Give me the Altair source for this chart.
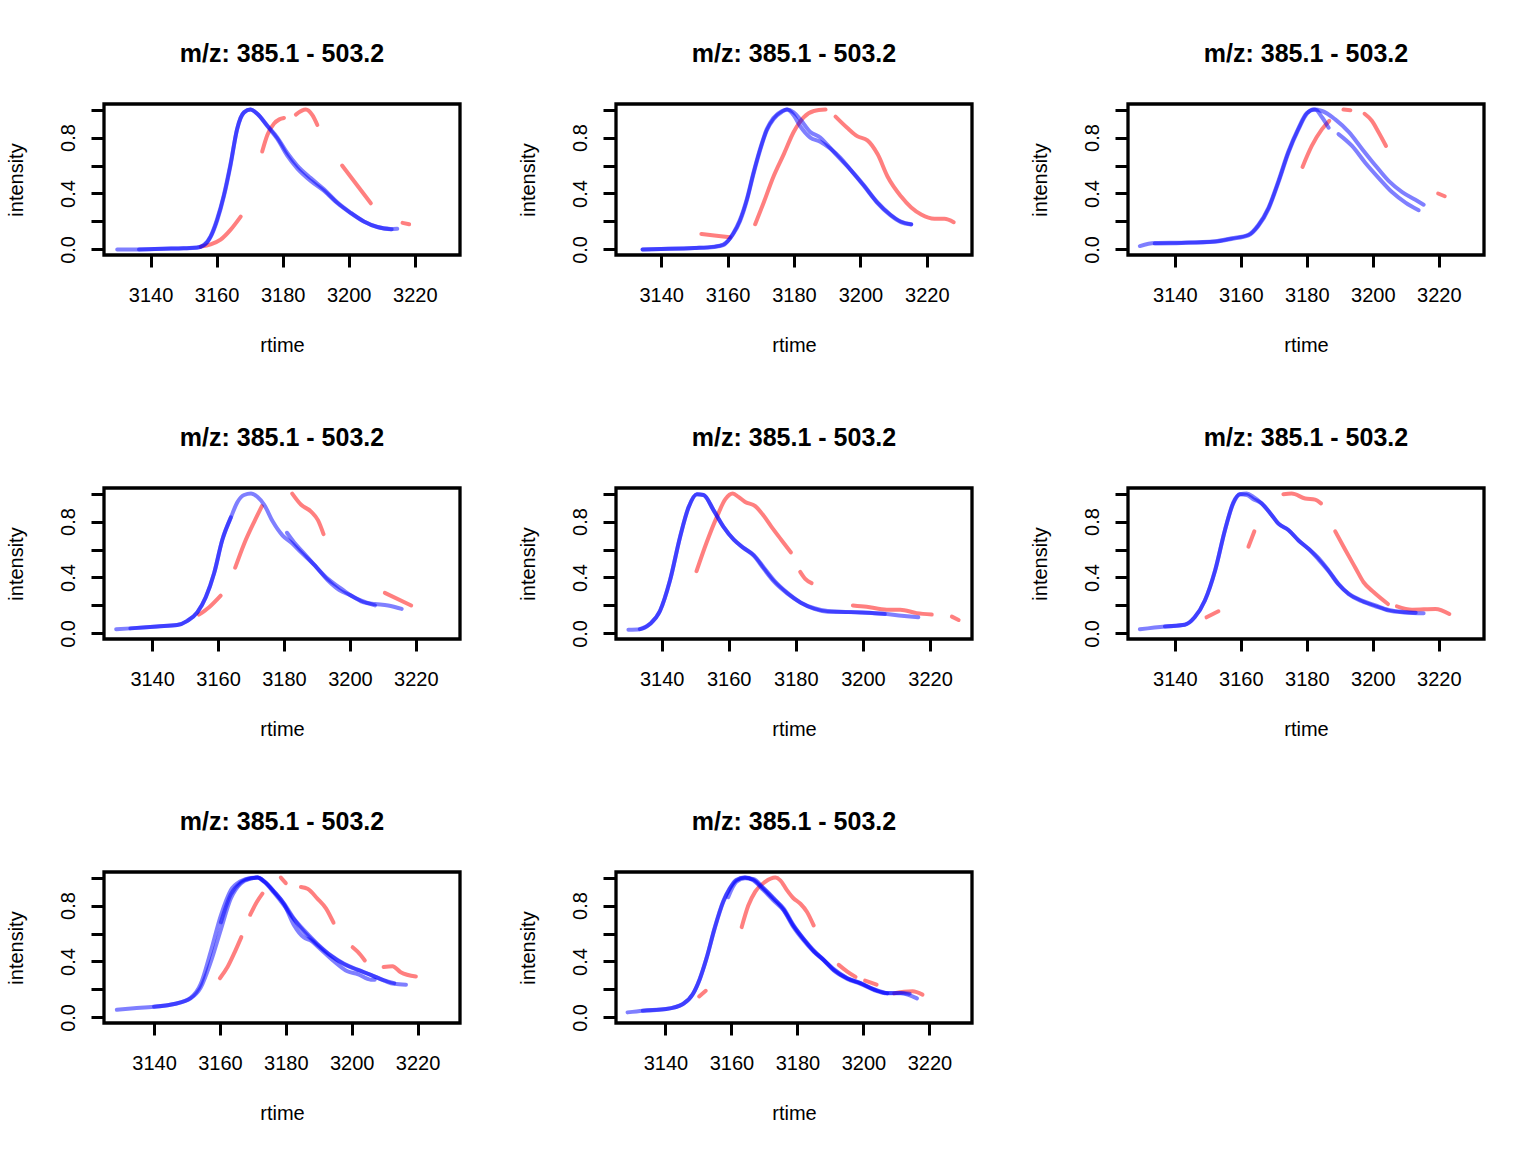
import altair as alt
import pandas as pd

TITLE = "m/z: 385.1 - 503.2"
X_TICKS = [3140, 3160, 3180, 3200, 3220]
Y_TICKS = [0.0, 0.2, 0.4, 0.6, 0.8, 1.0]
Y_DOMAIN = [-0.04, 1.04]

# ---------------- Panel 1 ----------------
P1_XDOM = [3125.9, 3233.7]
P1_B1_RT = [3129.9, 3136, 3144, 3150, 3154, 3156.2, 3158.2, 3160.2, 3162.2, 3164.2, 3166.2, 3168.3, 3170.3, 3172.3, 3175.4, 3178.4, 3181.4, 3184.4, 3188.5, 3192.5, 3196.6, 3200.6, 3204.6, 3208.7, 3212.7, 3214.7]
P1_B1_I = [0.0, 0.0, 0.005, 0.008, 0.012, 0.03, 0.09, 0.21, 0.38, 0.6, 0.86, 0.98, 1.0, 0.97, 0.88, 0.79, 0.67, 0.58, 0.49, 0.42, 0.33, 0.26, 0.20, 0.16, 0.145, 0.147]
P1_B2_RT = [3136.5, 3144, 3150, 3154, 3156.2, 3158.2, 3160.2, 3162.2, 3164.2, 3166.2, 3168.3, 3170.3, 3172.3, 3175.4, 3178.4, 3181.4, 3184.4, 3188.5, 3192.5, 3196.6, 3200.6, 3204.6, 3208.7, 3213.0]
P1_B2_I = [0.0, 0.005, 0.008, 0.013, 0.032, 0.095, 0.22, 0.39, 0.61, 0.86, 0.98, 1.0, 0.97, 0.885, 0.80, 0.69, 0.60, 0.51, 0.43, 0.335, 0.262, 0.2, 0.16, 0.145]
P1_R_RT = [[3155.2, 3158.2, 3161.2, 3164.2, 3167.3], [3173.8, 3175.4, 3177.4, 3179.0, 3180.4], [3184.0, 3187.0, 3189.0, 3190.5], [3198.0, 3206.7], [3216.3, 3218.3]]
P1_R_I = [[0.02, 0.036, 0.07, 0.14, 0.235], [0.70, 0.82, 0.90, 0.93, 0.94], [0.964, 1.0, 0.96, 0.89], [0.60, 0.33], [0.19, 0.18]]

# ---------------- Panel 2 ----------------
P2_XDOM = [3126.4, 3233.6]
P2_B1_RT = [3134.4, 3140, 3150, 3156, 3158.7, 3161.7, 3163.7, 3165.8, 3167.8, 3169.8, 3171.8, 3173.8, 3176.4, 3177.9, 3179.9, 3181.9, 3184.9, 3187.9, 3190.0, 3193.0, 3197.0, 3201.0, 3205.0, 3209.0, 3212.2, 3215.3]
P2_B1_I = [0.0, 0.003, 0.01, 0.018, 0.03, 0.115, 0.21, 0.36, 0.55, 0.72, 0.86, 0.94, 0.99, 1.0, 0.98, 0.93, 0.84, 0.80, 0.75, 0.67, 0.57, 0.46, 0.34, 0.25, 0.20, 0.18]
P2_B2_RT = [3134.4, 3140, 3150, 3156, 3158.7, 3161.7, 3163.7, 3165.8, 3167.8, 3169.8, 3171.8, 3173.8, 3176.4, 3177.9, 3179.9, 3181.9, 3184.9, 3187.9, 3191.0, 3194.0, 3197.0, 3201.0, 3205.0, 3209.0, 3212.2, 3215.3]
P2_B2_I = [0.0, 0.003, 0.01, 0.02, 0.035, 0.11, 0.2, 0.35, 0.54, 0.71, 0.85, 0.93, 0.985, 1.0, 0.96, 0.88, 0.80, 0.77, 0.72, 0.655, 0.57, 0.455, 0.335, 0.245, 0.195, 0.178]
P2_R_RT = [[3152.1, 3156.0, 3160.7], [3168.3, 3170.8, 3173.8, 3176.9, 3179.9, 3182.9, 3186.0, 3189.5], [3192.5, 3196.0, 3199.0, 3202.1, 3205.2, 3208.2, 3212.2, 3215.3, 3218.3, 3222.3, 3225.3, 3228.1]]
P2_R_I = [[0.11, 0.10, 0.087], [0.18, 0.33, 0.52, 0.68, 0.84, 0.945, 0.99, 1.0], [0.95, 0.87, 0.81, 0.78, 0.68, 0.52, 0.38, 0.30, 0.25, 0.22, 0.22, 0.195]]

# ---------------- Panel 3 ----------------
P3_XDOM = [3125.8, 3233.7]
P3_B1_RT = [3129.4, 3133.9, 3142, 3152.2, 3157.2, 3162.3, 3165.3, 3168.4, 3171.4, 3174.4, 3177.5, 3180.0, 3182.0, 3184.6, 3188.6, 3192.7, 3196.7, 3200.8, 3204.8, 3208.9, 3212.9, 3215.4]
P3_B1_I = [0.024, 0.045, 0.048, 0.055, 0.075, 0.10, 0.167, 0.29, 0.48, 0.69, 0.86, 0.97, 1.0, 0.99, 0.93, 0.84, 0.72, 0.60, 0.49, 0.41, 0.355, 0.32]
P3_B2A_RT = [3133.9, 3142, 3152.2, 3157.2, 3162.3, 3165.3, 3168.4, 3171.4, 3174.4, 3177.5, 3180.0, 3182.5, 3184.6, 3186.6]
P3_B2A_I = [0.043, 0.046, 0.058, 0.08, 0.105, 0.175, 0.30, 0.49, 0.70, 0.87, 0.975, 1.0, 0.945, 0.87]
P3_B2B_RT = [3189.6, 3193.7, 3197.7, 3201.8, 3205.8, 3209.9, 3213.9]
P3_B2B_I = [0.825, 0.74, 0.62, 0.51, 0.41, 0.335, 0.28]
P3_R_RT = [[3178.7, 3181.5, 3184.6, 3186.8], [3191.1, 3193.2], [3197.5, 3199.7, 3201.7, 3204.0], [3219.8, 3221.8]]
P3_R_I = [[0.59, 0.74, 0.86, 0.92], [1.0, 0.995], [0.97, 0.92, 0.84, 0.74], [0.40, 0.38]]

# ---------------- Panel 4 ----------------
P4_XDOM = [3125.4, 3233.4]
P4_B1_RT = [3129.1, 3133.4, 3141.5, 3147.6, 3150.7, 3153.7, 3156.3, 3158.8, 3161.3, 3163.9, 3165.9, 3167.9, 3170.0, 3172.0, 3174.0, 3176.6, 3179.6, 3182.2, 3185.2, 3189.2, 3193.3, 3196.8, 3200.4, 3204.5, 3207.6, 3211.6, 3215.7]
P4_B1_I = [0.03, 0.036, 0.05, 0.06, 0.09, 0.15, 0.26, 0.43, 0.67, 0.83, 0.94, 0.99, 1.0, 0.976, 0.92, 0.80, 0.70, 0.65, 0.58, 0.49, 0.38, 0.31, 0.27, 0.22, 0.21, 0.20, 0.175]
P4_B2A_RT = [3133.4, 3141.5, 3147.6, 3150.7, 3153.7, 3156.3, 3158.8, 3161.3, 3163.9]
P4_B2A_I = [0.036, 0.05, 0.06, 0.09, 0.15, 0.26, 0.43, 0.67, 0.83]
P4_B2B_RT = [3180.9, 3183.1, 3186.0, 3189.2, 3193.3, 3196.8, 3200.4, 3204.5, 3207.6]
P4_B2B_I = [0.72, 0.65, 0.575, 0.49, 0.39, 0.33, 0.27, 0.225, 0.20]
P4_R_RT = [[3154.2, 3157.3, 3160.8], [3165.2, 3167.9, 3171.0, 3173.3], [3182.5, 3185.2, 3188.3, 3190.3, 3192.0], [3210.6, 3218.6]]
P4_R_I = [[0.134, 0.187, 0.27], [0.47, 0.64, 0.80, 0.91], [1.0, 0.92, 0.87, 0.81, 0.71], [0.29, 0.20]]

# ---------------- Panel 5 ----------------
P5_XDOM = [3126.4, 3232.5]
P5_B1_RT = [3130.1, 3133.5, 3136.5, 3139.5, 3142.5, 3145.5, 3148.0, 3150.5, 3152.5, 3155.5, 3158.5, 3161.5, 3164.5, 3167.5, 3170.5, 3173.5, 3177.5, 3181.5, 3185.5, 3189.5, 3193.5, 3199.5, 3206.5, 3211.5, 3216.5]
P5_B1_I = [0.026, 0.03, 0.067, 0.16, 0.38, 0.69, 0.90, 0.995, 0.99, 0.88, 0.76, 0.67, 0.61, 0.56, 0.47, 0.38, 0.29, 0.22, 0.18, 0.16, 0.155, 0.15, 0.14, 0.127, 0.115]
P5_B2_RT = [3133.5, 3136.5, 3139.5, 3142.5, 3145.5, 3148.0, 3150.5, 3152.5, 3155.5, 3158.5, 3161.5, 3164.5, 3167.5, 3170.5, 3173.5, 3177.5, 3181.5, 3185.5, 3189.5, 3193.5, 3199.5, 3206.5]
P5_B2_I = [0.03, 0.067, 0.16, 0.38, 0.69, 0.90, 0.995, 0.99, 0.88, 0.76, 0.67, 0.61, 0.555, 0.46, 0.37, 0.285, 0.22, 0.175, 0.155, 0.153, 0.15, 0.138]
P5_R_RT = [[3150.4, 3153.4, 3156.4, 3159.0, 3161.2, 3162.9, 3164.9, 3167.9, 3170.3, 3172.8, 3175.8, 3178.5], [3181.3, 3182.8, 3184.7], [3197.0, 3201.1, 3207.1, 3211.1, 3216.0, 3220.5], [3226.5, 3228.5]]
P5_R_I = [[0.445, 0.65, 0.83, 0.96, 1.0, 0.976, 0.94, 0.91, 0.845, 0.76, 0.665, 0.58], [0.44, 0.39, 0.36], [0.20, 0.19, 0.17, 0.17, 0.145, 0.135], [0.12, 0.096]]

# ---------------- Panel 6 ----------------
P6_XDOM = [3125.8, 3233.7]
P6_B1_RT = [3129.4, 3137.0, 3143.0, 3146.0, 3149.1, 3152.2, 3155.2, 3157.7, 3159.7, 3161.8, 3163.8, 3166.3, 3168.9, 3171.4, 3174.4, 3177.5, 3180.5, 3183.5, 3186.6, 3189.6, 3192.7, 3196.7, 3200.8, 3204.8, 3209.9, 3215.4]
P6_B1_I = [0.03, 0.05, 0.062, 0.115, 0.235, 0.45, 0.74, 0.93, 0.995, 1.0, 0.976, 0.93, 0.86, 0.785, 0.74, 0.665, 0.605, 0.54, 0.45, 0.354, 0.28, 0.23, 0.194, 0.163, 0.15, 0.144]
P6_B2_RT = [3137.0, 3143.0, 3146.0, 3149.1, 3152.2, 3155.2, 3157.7, 3159.7, 3161.8, 3163.8, 3166.3, 3168.9, 3171.4, 3174.4, 3177.5, 3180.5, 3183.5, 3186.6, 3189.6, 3192.7, 3196.7, 3200.8, 3204.8, 3209.9, 3213.0]
P6_B2_I = [0.05, 0.062, 0.115, 0.235, 0.45, 0.74, 0.935, 0.995, 0.99, 0.96, 0.93, 0.86, 0.785, 0.74, 0.665, 0.605, 0.53, 0.445, 0.35, 0.285, 0.235, 0.20, 0.168, 0.152, 0.148]
P6_R_RT = [[3149.6, 3153.2], [3162.3, 3164.1], [3172.9, 3175.4, 3179.5, 3182.5, 3184.3], [3188.6, 3191.6, 3194.7, 3197.2, 3200.3, 3204.6], [3207.3, 3211.9, 3219.0, 3223.2]]
P6_R_I = [[0.115, 0.158], [0.62, 0.73], [0.995, 1.0, 0.965, 0.957, 0.93], [0.73, 0.60, 0.47, 0.366, 0.294, 0.21], [0.194, 0.17, 0.175, 0.139]]

# ---------------- Panel 7 ----------------
P7_XDOM = [3124.8, 3232.9]
P7_B1_RT = [3128.7, 3133.9, 3140.0, 3146.1, 3151.1, 3154.2, 3157.2, 3160.3, 3163.3, 3166.3, 3169.4, 3171.4, 3173.4, 3176.5, 3179.5, 3182.5, 3185.6, 3189.6, 3193.7, 3197.7, 3201.8, 3205.8, 3209.9, 3212.9, 3216.5]
P7_B1_I = [0.055, 0.065, 0.077, 0.096, 0.136, 0.215, 0.395, 0.63, 0.85, 0.957, 0.993, 1.0, 0.974, 0.897, 0.813, 0.706, 0.622, 0.526, 0.443, 0.383, 0.342, 0.304, 0.263, 0.24, 0.234]
P7_B2_RT = [3140.0, 3146.1, 3151.1, 3154.2, 3157.2, 3160.3, 3163.3, 3166.3, 3169.4, 3171.4, 3173.4, 3176.5, 3179.5, 3182.5, 3185.6, 3189.6, 3193.7, 3197.7, 3201.8, 3205.8, 3209.9, 3212.9]
P7_B2_I = [0.077, 0.096, 0.14, 0.24, 0.47, 0.73, 0.91, 0.975, 0.998, 1.0, 0.97, 0.89, 0.80, 0.70, 0.61, 0.52, 0.44, 0.38, 0.34, 0.305, 0.265, 0.245]
P7_B3_RT = [3160.3, 3163.3, 3166.3, 3169.4, 3171.4, 3173.4, 3176.5, 3179.5, 3182.5, 3185.6, 3187.6, 3190.0, 3194.7, 3198.7, 3201.8, 3205.8, 3207.0]
P7_B3_I = [0.68, 0.88, 0.965, 0.995, 1.0, 0.975, 0.90, 0.81, 0.66, 0.57, 0.55, 0.50, 0.40, 0.33, 0.31, 0.27, 0.27]
P7_R_RT = [[3160.0, 3162.3, 3164.5, 3166.5], [3169.2, 3171.2, 3172.9], [3178.5, 3180.0], [3184.6, 3186.6, 3189.6, 3192.2, 3194.5], [3200.3, 3201.8, 3204.0], [3209.7, 3212.4, 3214.9, 3219.5]]
P7_R_I = [[0.28, 0.36, 0.467, 0.574], [0.734, 0.825, 0.885], [1.0, 0.96], [0.933, 0.92, 0.85, 0.78, 0.677], [0.502, 0.47, 0.407], [0.36, 0.366, 0.323, 0.292]]

# ---------------- Panel 8 ----------------
P8_XDOM = [3125.0, 3232.9]
P8_B1_RT = [3128.5, 3133.1, 3140.2, 3145.3, 3148.3, 3150.4, 3152.4, 3154.9, 3157.5, 3159.5, 3161.5, 3164.1, 3166.6, 3169.7, 3172.7, 3175.8, 3178.8, 3181.9, 3184.9, 3188.0, 3191.0, 3195.1, 3199.1, 3203.2, 3207.2, 3211.3, 3216.2]
P8_B1_I = [0.036, 0.048, 0.06, 0.096, 0.167, 0.275, 0.42, 0.635, 0.825, 0.92, 0.98, 1.0, 0.98, 0.91, 0.837, 0.766, 0.646, 0.55, 0.471, 0.407, 0.335, 0.275, 0.24, 0.196, 0.172, 0.172, 0.136]
P8_B2_RT = [3133.1, 3140.2, 3145.3, 3148.3, 3150.4, 3152.4, 3154.9, 3157.5, 3159.5, 3161.5, 3164.1, 3166.6, 3169.7, 3172.7, 3175.8, 3178.8, 3181.9, 3184.9, 3188.0, 3191.0, 3195.1, 3199.1, 3203.2, 3207.2]
P8_B2_I = [0.048, 0.06, 0.096, 0.167, 0.275, 0.42, 0.64, 0.83, 0.925, 0.985, 1.0, 0.985, 0.92, 0.85, 0.78, 0.66, 0.56, 0.475, 0.41, 0.34, 0.28, 0.245, 0.20, 0.172]
P8_B3_RT = [3159.0, 3161.5, 3164.1, 3166.6, 3169.7, 3172.7, 3175.8, 3178.8, 3181.9, 3184.9, 3188.0, 3191.0, 3195.1, 3199.1, 3203.2, 3207.2, 3211.3, 3214.0]
P8_B3_I = [0.86, 0.97, 0.995, 0.99, 0.925, 0.855, 0.77, 0.655, 0.56, 0.48, 0.41, 0.345, 0.28, 0.245, 0.20, 0.174, 0.174, 0.17]
P8_R_RT = [[3150.2, 3152.2], [3163.1, 3165.1, 3167.2, 3170.2, 3173.3, 3174.8, 3176.8, 3178.7, 3180.9, 3182.9, 3184.9], [3192.5, 3195.1, 3197.6], [3200.5, 3204.0], [3209.3, 3212.3, 3214.9, 3217.9]]
P8_R_I = [[0.15, 0.19], [0.646, 0.80, 0.90, 0.97, 1.0, 0.98, 0.91, 0.854, 0.813, 0.754, 0.658], [0.376, 0.328, 0.29], [0.263, 0.234], [0.172, 0.184, 0.187, 0.163]]

PANELS = [
    (P1_XDOM, [(P1_B1_RT, P1_B1_I), (P1_B2_RT, P1_B2_I)], (P1_R_RT, P1_R_I)),
    (P2_XDOM, [(P2_B1_RT, P2_B1_I), (P2_B2_RT, P2_B2_I)], (P2_R_RT, P2_R_I)),
    (P3_XDOM, [(P3_B1_RT, P3_B1_I), (P3_B2A_RT, P3_B2A_I), (P3_B2B_RT, P3_B2B_I)], (P3_R_RT, P3_R_I)),
    (P4_XDOM, [(P4_B1_RT, P4_B1_I), (P4_B2A_RT, P4_B2A_I), (P4_B2B_RT, P4_B2B_I)], (P4_R_RT, P4_R_I)),
    (P5_XDOM, [(P5_B1_RT, P5_B1_I), (P5_B2_RT, P5_B2_I)], (P5_R_RT, P5_R_I)),
    (P6_XDOM, [(P6_B1_RT, P6_B1_I), (P6_B2_RT, P6_B2_I)], (P6_R_RT, P6_R_I)),
    (P7_XDOM, [(P7_B1_RT, P7_B1_I), (P7_B2_RT, P7_B2_I), (P7_B3_RT, P7_B3_I)], (P7_R_RT, P7_R_I)),
    (P8_XDOM, [(P8_B1_RT, P8_B1_I), (P8_B2_RT, P8_B2_I), (P8_B3_RT, P8_B3_I)], (P8_R_RT, P8_R_I)),
]

W, H = 356, 151
FONT = "Liberation Sans"

Y_LABEL_EXPR = ("(abs(datum.value) < 0.001 || abs(datum.value - 0.4) < 0.001 || "
                "abs(datum.value - 0.8) < 0.001) ? format(datum.value, '.1f') : ''")


def panel(xdom, blues, red):
    rows = []
    for si, (rts, ints) in enumerate(zip(*red)):
        for rt, v in zip(rts, ints):
            rows.append({"rt": rt, "intensity": v, "grp": "red", "key": f"r{si}"})
    for bi, (rts, ints) in enumerate(blues):
        for rt, v in zip(rts, ints):
            rows.append({"rt": rt, "intensity": v, "grp": "blue", "key": f"b{bi}"})
    df = pd.DataFrame(rows)
    return (
        alt.Chart(df)
        .mark_line(strokeWidth=4, opacity=0.5, strokeCap="round", strokeJoin="round",
                   interpolate="monotone", clip=True)
        .encode(
            x=alt.X("rt:Q", scale=alt.Scale(domain=xdom, nice=False, zero=False),
                    axis=alt.Axis(values=X_TICKS, title="rtime", format="d")),
            y=alt.Y("intensity:Q", scale=alt.Scale(domain=Y_DOMAIN, nice=False, zero=False),
                    axis=alt.Axis(values=Y_TICKS, title="intensity", labelExpr=Y_LABEL_EXPR)),
            color=alt.Color("grp:N", scale=alt.Scale(domain=["blue", "red"], range=["#0000FF", "#FF0000"]),
                            legend=None),
            detail="key:N",
        )
        .properties(
            width=W, height=H,
            title=alt.TitleParams(TITLE, fontSize=25, fontWeight="bold", font=FONT, color="black",
                                  anchor="middle", frame="group", baseline="alphabetic", offset=17),
        )
    )


charts = [panel(*p) for p in PANELS]

chart = (
    alt.concat(*charts, columns=3, spacing={"row": 384 - H, "column": 512 - W}, bounds="flush")
    .configure_view(stroke="black", strokeWidth=3.3)
    .configure_axis(grid=False, domain=False, tickColor="black", tickWidth=3,
                    labelFont=FONT, labelFontSize=20, labelColor="black",
                    titleFont=FONT, titleFontSize=20, titleFontWeight="normal", titleColor="black",
                    labelFlush=False, labelOverlap=False)
    .configure_axisX(tickSize=12, labelPadding=34, labelBaseline="alphabetic",
                     titleX=W / 2, titleY=96.7, titleBaseline="alphabetic", titleAlign="center")
    .configure_axisY(tickSize=13, labelPadding=17, labelAngle=270, labelAlign="center",
                     labelBaseline="alphabetic",
                     titleX=-81.8, titleY=H / 2, titleAngle=270, titleAlign="center",
                     titleBaseline="alphabetic")
    .properties(background="white", padding={"left": 4, "top": 40, "right": 0, "bottom": 0})
)

chart.save("out.html", embed_options={"renderer": "svg", "actions": False})
